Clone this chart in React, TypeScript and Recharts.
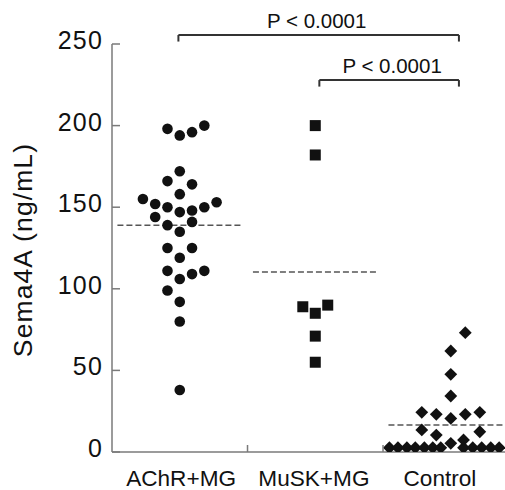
import React from 'react';
import { ScatterChart, Scatter, XAxis, YAxis, ReferenceLine } from 'recharts';

// category labels and where their centres sit on the numeric x scale
const categories = ['AChR+MG', 'MuSK+MG', 'Control'];
const categoryCenters = [0.5, 1.5, 2.5];
const labelTicks = [0.51, 1.49, 2.42];
const boundaryTicks = [1, 2];
const yTicks = [0, 50, 100, 150, 200, 250];

// AChR+MG: column (jitter step) and value
const achrCols = [-1, 0, 1, 2, 0, -1, 1, 0, -3, -2, -1, 0, 1, 2, 3, -2, -1, 1, 0, -1, 1, 0, -1, 0, 1, 2, -1, 0, 0, 0];
const achrValues = [198, 194, 196, 200, 172, 166, 164, 158, 155, 152, 150, 147, 148, 150, 153, 144, 139, 141, 135, 125, 125, 119, 111, 106, 109, 111, 99, 92, 80, 38];

// MuSK+MG
const muskCols = [0, 0, -1, 0, 1, 0, 0];
const muskValues = [200, 182, 89, 85, 90, 71, 55];

// Control (offsets in category units)
const controlOffsets = [
  -0.453, -0.39, -0.324, -0.262, -0.195, -0.133, -0.074, 0.094, 0.162, 0.228, 0.295, 0.357, 0, 0.094,
  -0.214, -0.107, 0, 0.107, 0.214, -0.214, -0.107, 0.214, 0, 0, 0, 0.107,
];
const controlValues = [
  2.6, 2.6, 2.6, 2.6, 2.6, 2.6, 2.6, 2.6, 2.6, 2.6, 2.6, 2.6, 5.3, 7.4,
  24.3, 23.1, 20.6, 23.1, 24.3, 13.5, 10.4, 12.4, 34.3, 47.6, 61.9, 73.1,
];

// group means (dashed lines)
const means = [139, 110.3, 16.5];

// significance brackets
const brackets = [
  { from: 0.49, to: 2.56, y: 255.5, drop: 4, text: 'P < 0.0001', dx: -2 },
  { from: 1.53, to: 2.56, y: 227.9, drop: 4, text: 'P < 0.0001', dx: 3 },
];

const FONT = '"Liberation Sans", Arial, Helvetica, sans-serif';
const AXIS = '#7a7a7a';
const INK = '#111';

const achrData = achrValues.map((v, i) => ({ x: categoryCenters[0] + achrCols[i] * 0.0906, y: v }));
const muskData = muskValues.map((v, i) => ({ x: categoryCenters[1] + muskCols[i] * 0.092, y: v }));
const controlData = controlValues.map((v, i) => ({ x: categoryCenters[2] + controlOffsets[i], y: v }));

const Dot = (p: any) => <circle cx={p.cx} cy={p.cy} r={5.3} fill={INK} />;
const Square = (p: any) => <rect x={p.cx - 5.5} y={p.cy - 5.5} width={11} height={11} fill={INK} />;
const Diamond = (p: any) => (
  <path d={`M${p.cx},${p.cy - 6.4}L${p.cx + 6.4},${p.cy}L${p.cx},${p.cy + 6.4}L${p.cx - 6.4},${p.cy}Z`} fill={INK} />
);

const XTick = (p: any) => {
  const v = p.payload.value;
  if (boundaryTicks.includes(v)) {
    return <line x1={p.x} x2={p.x} y1={p.y} y2={p.y - 7} stroke={AXIS} strokeWidth={1.5} />;
  }
  const i = labelTicks.indexOf(v);
  return (
    <text x={p.x} y={p.y + 34} textAnchor="middle" fontFamily={FONT} fontSize={22.6} fill={INK}>
      {categories[i]}
    </text>
  );
};

const YTick = (p: any) => (
  <g>
    <line x1={p.x} x2={p.x + 8} y1={p.y} y2={p.y} stroke={AXIS} strokeWidth={1.5} />
    <text x={p.x - 9} y={p.y + 5} textAnchor="end" fontFamily={FONT} fontSize={25} letterSpacing={1.2} fill={INK}>
      {p.payload.value}
    </text>
  </g>
);

const YLabel = (p: any) => {
  const vb = p.viewBox;
  const cx = 32;
  const cy = vb.y + vb.height / 2 + 2;
  return (
    <text
      x={cx}
      y={cy}
      transform={`rotate(-90 ${cx} ${cy})`}
      textAnchor="middle"
      fontFamily={FONT}
      fontSize={26.5}
      letterSpacing={1.1}
      fill={INK}
    >
      Sema4A (ng/mL)
    </text>
  );
};

export default function App() {
  return (
    <div style={{ width: 505, height: 490, background: '#fff' }}>
      <style>{'body{margin:0;background:#fff}'}</style>
      <ScatterChart width={505} height={490} margin={{ top: 44, right: 0, bottom: 0, left: 0 }}>
        <XAxis
          type="number"
          dataKey="x"
          domain={[0, 2.9]}
          ticks={[...labelTicks, ...boundaryTicks].sort((a, b) => a - b)}
          interval={0}
          height={38}
          tickLine={false}
          tickSize={0}
          tickMargin={0}
          axisLine={{ stroke: AXIS, strokeWidth: 1.5 }}
          tick={<XTick />}
          allowDataOverflow
        />
        <YAxis
          type="number"
          dataKey="y"
          domain={[0, 250]}
          ticks={yTicks}
          interval={0}
          width={112}
          tickLine={false}
          tickSize={0}
          tickMargin={0}
          axisLine={{ stroke: AXIS, strokeWidth: 1.5 }}
          tick={<YTick />}
          label={<YLabel />}
          allowDataOverflow
        />
        {means.map((m, i) => (
          <ReferenceLine
            key={`mean-${i}`}
            segment={[
              { x: categoryCenters[i] - 0.46, y: m },
              { x: categoryCenters[i] + 0.46, y: m },
            ]}
            stroke="#555"
            strokeWidth={1.5}
            strokeDasharray="6 3"
            ifOverflow="visible"
          />
        ))}
        {brackets.map((b, i) => (
          <ReferenceLine
            key={`bh-${i}`}
            segment={[
              { x: b.from, y: b.y },
              { x: b.to, y: b.y },
            ]}
            stroke="#333"
            strokeWidth={2}
            ifOverflow="visible"
            label={(p: any) => {
              const vb = p.viewBox;
              return (
                <text
                  x={vb.x + vb.width / 2 + b.dx}
                  y={vb.y - 7}
                  textAnchor="middle"
                  fontFamily={FONT}
                  fontSize={20.5}
                  fill={INK}
                >
                  {b.text}
                </text>
              );
            }}
          />
        ))}
        {brackets.flatMap((b, i) =>
          [b.from, b.to].map((x, j) => (
            <ReferenceLine
              key={`bv-${i}-${j}`}
              segment={[
                { x, y: b.y },
                { x, y: b.y - b.drop },
              ]}
              stroke="#333"
              strokeWidth={2}
              ifOverflow="visible"
            />
          ))
        )}
        <Scatter data={achrData} shape={<Dot />} isAnimationActive={false} />
        <Scatter data={muskData} shape={<Square />} isAnimationActive={false} />
        <Scatter data={controlData} shape={<Diamond />} isAnimationActive={false} />
      </ScatterChart>
    </div>
  );
}
